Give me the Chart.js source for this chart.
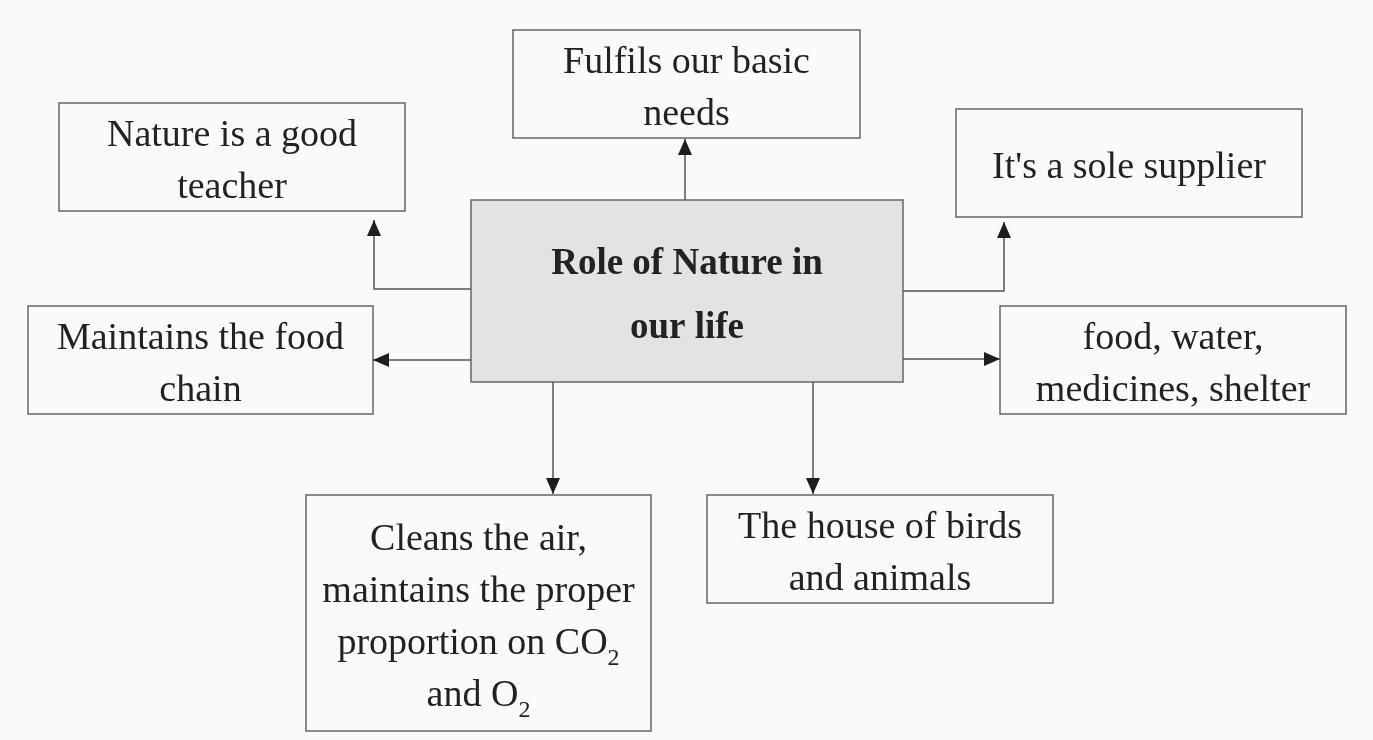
<!DOCTYPE html>
<html>
<head>
<meta charset="utf-8">
<title>Role of Nature in our life</title>
<script src="https://cdn.jsdelivr.net/npm/chart.js@4.4.1/dist/chart.umd.min.js"></script>
<style>
  html, body { margin: 0; padding: 0; background: #fafafa; }
  #wrap { width: 1373px; height: 740px; position: relative; }
</style>
</head>
<body>
<div id="wrap"><canvas id="map"></canvas></div>
<script>
// node texts (first one is the centre), "_2" marks a subscript
const nodeLabels = [
  ["Role of Nature in", "our life"],
  ["Fulfils our basic", "needs"],
  ["Nature is a good", "teacher"],
  ["It's a sole supplier"],
  ["Maintains the food", "chain"],
  ["food, water,", "medicines, shelter"],
  ["Cleans the air,", "maintains the proper", "proportion on CO_2", "and O_2"],
  ["The house of birds", "and animals"]
];

// layout: box corners [x0, y0, x1, y1] in scale units
const boxLayout = [
  [471, 200, 903, 382],
  [513, 30, 860, 138],
  [59, 103, 405, 211],
  [956, 109, 1302, 217],
  [28, 306, 373, 414],
  [1000, 306, 1346, 414],
  [306, 495, 651, 731],
  [707, 495, 1053, 603]
];

// arrows from the centre box: side it leaves by, position on that side, elbow position
const arrowLayout = [
  { to: 1, side: "top", at: 685 },
  { to: 2, side: "left", at: 289, elbow: 374, gap: 9 },
  { to: 4, side: "left", at: 360 },
  { to: 3, side: "right", at: 291, elbow: 1004, gap: 5 },
  { to: 5, side: "right", at: 359 },
  { to: 6, side: "bottom", at: 553 },
  { to: 7, side: "bottom", at: 813 }
];

const FONT = "'Liberation Serif', 'Times New Roman', serif";

const diagramPlugin = {
  id: "diagram",
  beforeDraw(chart) {
    const c = chart.ctx;
    c.save();
    c.fillStyle = "#fafafa";
    c.fillRect(0, 0, chart.width, chart.height);
    c.restore();
  },
  afterDatasetsDraw(chart) {
    const c = chart.ctx;
    const xs = chart.scales.x, ys = chart.scales.y;
    const px = v => xs.getPixelForValue(v);
    const py = v => ys.getPixelForValue(v);

    // boxes
    boxLayout.forEach((b, i) => {
      const x0 = px(b[0]), y0 = py(b[1]), x1 = px(b[2]), y1 = py(b[3]);
      c.save();
      if (i === 0) {
        c.fillStyle = "#e3e3e3";
        c.fillRect(x0, y0, x1 - x0, y1 - y0);
      }
      c.strokeStyle = "#6e6e6e";
      c.lineWidth = 1.6;
      c.strokeRect(x0, y0, x1 - x0, y1 - y0);
      c.restore();
    });

    // arrows
    arrowLayout.forEach(a => {
      const s = boxLayout[0], t = boxLayout[a.to];
      const gap = a.gap || 1;
      let pts;
      if (a.side === "top") pts = [[a.at, s[1]], [a.at, t[3] + gap]];
      else if (a.side === "bottom") pts = [[a.at, s[3]], [a.at, t[1] - gap]];
      else if (a.side === "left") {
        pts = a.elbow ? [[s[0], a.at], [a.elbow, a.at], [a.elbow, t[3] + gap]]
                      : [[s[0], a.at], [t[2], a.at]];
      } else {
        pts = a.elbow ? [[s[2], a.at], [a.elbow, a.at], [a.elbow, t[3] + gap]]
                      : [[s[2], a.at], [t[0], a.at]];
      }
      const p = pts.map(q => [px(q[0]), py(q[1])]);
      c.save();
      c.strokeStyle = "#555";
      c.lineWidth = 1.5;
      c.beginPath();
      c.moveTo(p[0][0], p[0][1]);
      for (let k = 1; k < p.length; k++) c.lineTo(p[k][0], p[k][1]);
      c.stroke();
      // head
      const e = p[p.length - 1], f = p[p.length - 2];
      const ang = Math.atan2(e[1] - f[1], e[0] - f[0]);
      const len = 16, half = 7;
      c.fillStyle = "#1e1e1e";
      c.translate(e[0], e[1]);
      c.rotate(ang);
      c.beginPath();
      c.moveTo(0, 0);
      c.lineTo(-len, -half);
      c.lineTo(-len, half);
      c.closePath();
      c.fill();
      c.restore();
    });

    // texts
    nodeLabels.forEach((lines, i) => {
      const b = boxLayout[i];
      const bold = i === 0;
      const size = bold ? 37 : 38;
      const lh = bold ? 64 : 52;
      const cx = px((b[0] + b[2]) / 2);
      const cy = py((b[1] + b[3]) / 2);
      const first = cy - (lines.length - 1) / 2 * lh + (bold ? 15 : 15);
      c.save();
      c.fillStyle = "#222";
      c.textBaseline = "alphabetic";
      lines.forEach((line, k) => {
        const y = first + k * lh;
        const parts = line.split("_");
        const main = (bold ? "bold " : "") + size + "px " + FONT;
        const sub = Math.round(size * 0.62) + "px " + FONT;
        c.font = main;
        const w0 = c.measureText(parts[0]).width;
        let w1 = 0;
        if (parts[1]) { c.font = sub; w1 = c.measureText(parts[1]).width; }
        let x = cx - (w0 + w1) / 2;
        c.font = main;
        c.textAlign = "left";
        c.fillText(parts[0], x, y);
        if (parts[1]) {
          c.font = sub;
          c.fillText(parts[1], x + w0, y + 11);
        }
      });
      c.restore();
    });
  }
};

new Chart(document.getElementById("map"), {
  type: "scatter",
  data: {
    datasets: [{
      label: "nodes",
      data: boxLayout.map(b => ({ x: (b[0] + b[2]) / 2, y: (b[1] + b[3]) / 2 })),
      pointRadius: 0
    }]
  },
  options: {
    responsive: true,
    maintainAspectRatio: false,
    animation: false,
    layout: { padding: 0 },
    events: [],
    scales: {
      x: { type: "linear", min: 0, max: 1373, display: false },
      y: { type: "linear", min: 0, max: 740, reverse: true, display: false }
    },
    plugins: {
      legend: { display: false },
      tooltip: { enabled: false }
    }
  },
  plugins: [diagramPlugin]
});
</script>
</body>
</html>
